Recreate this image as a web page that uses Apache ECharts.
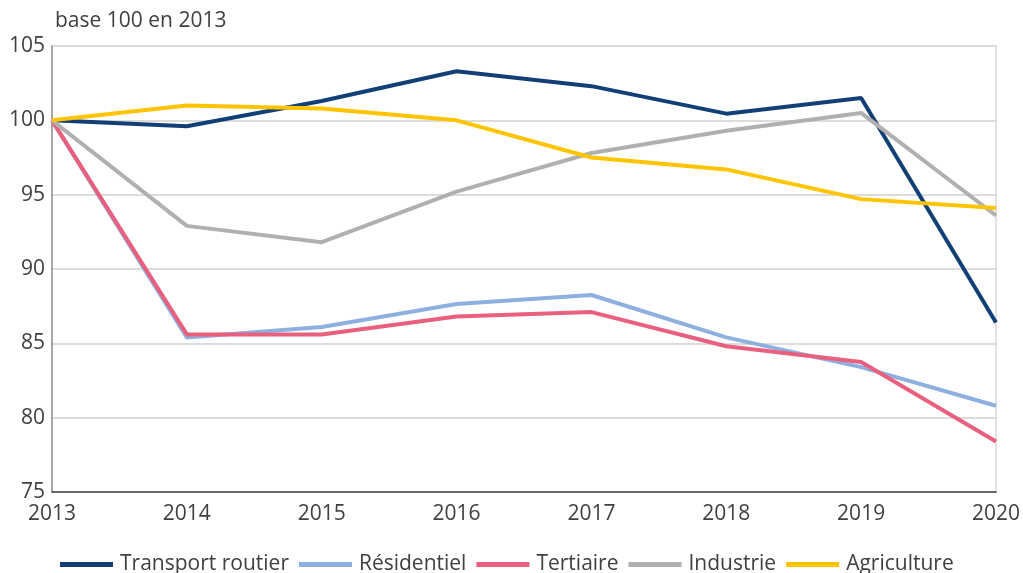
<!DOCTYPE html>
<html>
<head>
<meta charset="utf-8">
<script src="https://cdn.jsdelivr.net/npm/echarts@6/dist/echarts.min.js"></script>
<style>
html,body{margin:0;padding:0;background:#fff;}
#chart{width:1023px;height:573px;}
</style>
</head>
<body>
<div id="chart"></div>
<script>
var years = ['2013','2014','2015','2016','2017','2018','2019','2020'];
var transport = [100, 99.6, 101.3, 103.3, 102.3, 100.45, 101.5, 86.4];
var residentiel = [100, 85.4, 86.1, 87.65, 88.25, 85.4, 83.4, 80.8];
var tertiaire = [100, 85.6, 85.6, 86.8, 87.1, 84.8, 83.75, 78.4];
var industrie = [100, 92.9, 91.8, 95.2, 97.8, 99.3, 100.5, 93.6];
var agriculture = [100, 101.0, 100.8, 100.0, 97.5, 96.7, 94.7, 94.1];

var names = ['Transport routier','Résidentiel','Tertiaire','Industrie','Agriculture'];
var colors = ['#133f77','#8eb0e0','#e9607f','#b0b0b0','#ffc400'];
var values = [transport, residentiel, tertiaire, industrie, agriculture];

var chart = echarts.init(document.getElementById('chart'));

var series = [];
for (var i = 0; i < names.length; i++) {
    series.push({
        name: names[i],
        type: 'line',
        data: values[i],
        symbol: 'none',
        lineStyle: {width: 4, color: colors[i]},
        itemStyle: {color: colors[i]}
    });
}

var font = 'Open Sans';
var option = {
    animation: false,
    textStyle: {fontFamily: font},
    title: {
        text: 'base 100 en 2013',
        left: 50,
        top: 6,
        textStyle: {fontFamily: font, fontSize: 21, fontWeight: 'normal', color: '#404040'}
    },
    grid: {left: 52, right: 26, top: 46, bottom: 81, containLabel: false},
    legend: {
        data: names,
        top: 549,
        left: 55,
        icon: 'rect',
        itemWidth: 53,
        itemHeight: 5,
        itemGap: 10,
        textStyle: {fontFamily: font, fontSize: 21, color: '#404040', padding: [0, 0, 0, 2]}
    },
    xAxis: {
        type: 'category',
        data: years,
        boundaryGap: false,
        axisLine: {lineStyle: {color: '#404040', width: 1.5}},
        axisTick: {show: false},
        axisLabel: {fontFamily: font, fontSize: 21, color: '#404040', margin: 12}
    },
    yAxis: [{
        type: 'value',
        min: 75,
        max: 105,
        interval: 5,
        axisLine: {show: true, lineStyle: {color: '#888888', width: 1.5}},
        axisTick: {show: false},
        axisLabel: {fontFamily: font, fontSize: 21, color: '#404040', margin: 7},
        splitLine: {lineStyle: {color: '#d0d0d0', width: 1.5}}
    }, {
        type: 'value',
        position: 'right',
        min: 75,
        max: 105,
        interval: 5,
        axisLine: {show: true, lineStyle: {color: '#d9d9d9', width: 1.5}},
        axisTick: {show: false},
        axisLabel: {show: false},
        splitLine: {show: false}
    }],
    series: series
};

chart.setOption(option);
window.addEventListener('resize', chart.resize);
</script>
</body>
</html>
